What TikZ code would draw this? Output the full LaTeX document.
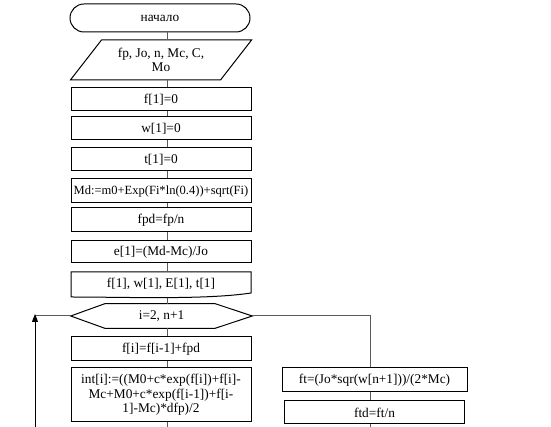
\documentclass[tikz,border=0pt]{standalone}
\usepackage{fontspec}
\setmainfont{Liberation Serif}
\usetikzlibrary{arrows.meta,shapes.geometric}
\definecolor{linkgray}{HTML}{5A5A5A}

\begin{document}
\begin{tikzpicture}[x=0.75pt,y=-0.75pt,
  every node/.style={font=\fontsize{10}{11}\selectfont},
  blockbox/.style={draw=black,line width=0.75pt,minimum width=135pt,minimum height=17.25pt,inner sep=0pt,align=center},
  link/.style={draw=linkgray,line width=0.75pt}]
  \useasboundingbox (0,0) rectangle (551,427);
  \coordinate (spine) at (167,0);
  \coordinate (branch) at (370,0);
  \coordinate (back) at (35,427);
  % main column
  \node[blockbox,rounded corners=10.5pt,minimum height=21pt] (start) at (160,18) {начало};
  \node[trapezium,draw,line width=0.75pt,trapezium left angle=47,trapezium right angle=133,
    trapezium stretches=true,minimum width=136.5pt,minimum height=30pt,inner sep=0pt,align=center] (input) at (161,60) {fp, Jo, n, Mc, C,\\Mo};
  \node[blockbox] (f1) at (161,99.5) {f[1]=0};
  \node[blockbox] (w1) at (161,128.5) {w[1]=0};
  \node[blockbox] (t1) at (161,159.5) {t[1]=0};
  \node[blockbox,minimum height=18pt,font=\fontsize{9.4}{11}\selectfont] (md) at (161,191) {Md:=m0+Exp(Fi*ln(0.4))+sqrt(Fi)};
  \node[blockbox,minimum height=18pt] (fpd) at (161,220) {fpd=fp/n};
  \node[blockbox,minimum height=16.5pt] (e1) at (161,252) {e[1]=(Md-Mc)/Jo};
  % output document
  \node[minimum width=135pt,minimum height=18.75pt,inner sep=0pt] (out) at (161,284) {f[1], w[1], E[1], t[1]};
  \draw[line width=0.75pt] (71,272) -- (251,272) -- (251,293)
    .. controls (205,300) and (125,297) .. (71,297) -- cycle;
  % loop
  \node[minimum width=135.75pt,minimum height=18pt,inner sep=0pt] (loop) at (161.5,316) {i=2, n+1};
  \draw[line width=0.75pt] (loop.west) -- ([xshift=25.5pt]loop.north west) -- ([xshift=-27.75pt]loop.north east)
    -- (loop.east) -- ([xshift=-27.75pt]loop.south east) -- ([xshift=25.5pt]loop.south west) -- cycle;
  \node[blockbox,minimum height=18pt] (fi) at (161,349) {f[i]=f[i-1]+fpd};
  \node[blockbox,minimum height=40.5pt] (int) at (161,395) {int[i]:=((M0+c*exp(f[i])+f[i]-\\Mc+M0+c*exp(f[i-1])+f[i-\\1]-Mc)*dfp)/2};
  % right column
  \node[blockbox,minimum width=138.75pt,minimum height=18pt] (ft) at (374.5,380) {ft=(Jo*sqr(w[n+1]))/(2*Mc)};
  \node[blockbox] (ftd) at (374.5,412.5) {ftd=ft/n};
  % connectors
  \draw[link] (start.south -| spine) -- (input.north -| spine);
  \draw[link] (input.south -| spine) -- (f1.north -| spine);
  \draw[link] (f1.south -| spine) -- (w1.north -| spine);
  \draw[link] (w1.south -| spine) -- (t1.north -| spine);
  \draw[link] (t1.south -| spine) -- (md.north -| spine);
  \draw[link] (md.south -| spine) -- (fpd.north -| spine);
  \draw[link] (fpd.south -| spine) -- (e1.north -| spine);
  \draw[link] (e1.south -| spine) -- (out.north -| spine);
  \draw[link] ([yshift=-1pt]out.south -| spine) -- (loop.north -| spine);
  \draw[link] (loop.south -| spine) -- (fi.north -| spine);
  \draw[link] (fi.south -| spine) -- (int.north -| spine);
  \draw[link] (int.south -| spine) -- (spine |- back);
  \draw[link] (loop.east) -| (ft.north -| branch);
  \draw[link] (ft.south -| branch) -- (ftd.north -| branch);
  \draw[link] (ftd.south -| branch) -- (branch |- back);
  \draw[link] (back |- loop.west) -- (loop.west);
  \draw[link,-{Triangle[length=6pt,width=4.5pt]},draw=black] (back) -- ([yshift=1.5pt]back |- loop.west);
\end{tikzpicture}
\end{document}
